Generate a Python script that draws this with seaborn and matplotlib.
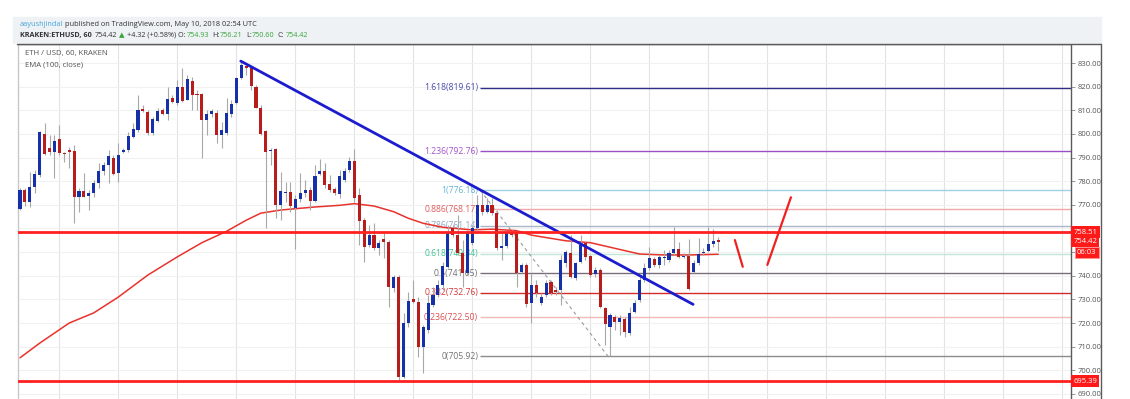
import matplotlib
matplotlib.use("Agg")
import numpy as np
import pandas as pd
import matplotlib.pyplot as plt
from matplotlib.lines import Line2D
from matplotlib.patches import Rectangle
import matplotlib.transforms as mtransforms
import seaborn as sns

# ETH/USD hourly candles (Kraken)
opens = [768.2, 776.3, 771.3, 777.7, 782.6, 800.0, 794.2, 792.5, 797.7, 791.9,
         792.9, 792.8, 773.5, 776.0, 773.9, 774.9, 779.1, 784.3, 786.8, 790.0,
         783.3, 792.2, 793.2, 798.8, 801.7, 810.5, 809.4, 800.3, 805.5, 810.0,
         808.3, 815.3, 812.9, 820.0, 814.3, 822.4, 816.7, 816.7, 805.9, 808.3,
         809.0, 799.5, 800.3, 808.3, 812.9, 823.5, 828.7, 827.7, 820.0, 811.1,
         801.2, 792.8, 793.6, 769.9, 775.0, 775.6, 768.8, 772.5, 774.9, 776.3,
         771.6, 783.0, 784.3, 778.8, 776.7, 774.5, 780.5, 784.7, 788.5, 774.3,
         763.6, 753.0, 757.2, 751.6, 755.4, 754.4, 734.7, 739.6, 697.0, 720.2,
         730.0, 729.0, 709.7, 717.1, 727.6, 731.9, 736.1, 743.9, 760.1, 757.2,
         749.5, 741.0, 753.7, 760.1, 769.9, 767.1, 769.9, 766.7, 751.6, 752.6,
         758.2, 758.6, 741.7, 744.6, 728.3, 736.1, 728.3, 731.9, 737.5, 734.0,
         734.0, 745.3, 749.8, 738.9, 746.0, 753.7, 748.4, 740.6, 742.4, 726.5,
         718.5, 722.7, 720.6, 721.7, 715.6, 724.8, 729.7, 738.2, 743.1, 747.1,
         744.5, 747.4, 746.7, 749.8, 751.2, 747.8, 748.4, 741.7, 745.3, 749.5,
         750.6, 753.3, 754.93]
highs = [777.0, 777.0, 784.0, 784.7, 801.2, 804.5, 799.5, 799.5, 803.8, 792.5,
         794.6, 795.3, 777.0, 783.3, 776.3, 780.5, 787.5, 788.3, 793.2, 791.1,
         796.0, 794.2, 801.0, 804.5, 816.5, 812.2, 810.1, 807.3, 810.8, 810.8,
         820.0, 816.5, 822.8, 827.7, 824.9, 824.2, 818.6, 817.2, 810.1, 810.5,
         810.1, 805.2, 815.3, 814.3, 824.2, 830.6, 829.2, 828.4, 820.7, 812.2,
         801.7, 793.9, 793.9, 784.0, 779.8, 779.8, 774.2, 783.3, 780.5, 777.7,
         786.8, 789.4, 787.5, 782.6, 777.7, 784.7, 785.4, 790.4, 793.6, 777.0,
         764.3, 761.5, 762.2, 755.1, 757.9, 755.1, 740.3, 740.3, 724.1, 733.3,
         738.2, 731.1, 719.2, 731.9, 735.4, 738.2, 746.0, 761.5, 761.5, 765.7,
         755.1, 759.4, 761.5, 774.2, 776.2, 772.8, 772.8, 767.8, 757.9, 759.1,
         759.4, 759.4, 745.3, 745.3, 741.0, 738.2, 732.6, 738.2, 738.2, 735.4,
         748.8, 750.9, 757.2, 746.0, 757.2, 754.4, 748.8, 743.5, 743.1, 726.9,
         724.1, 723.4, 723.4, 722.7, 726.9, 729.7, 740.3, 745.3, 752.3, 748.1,
         748.8, 750.9, 750.9, 760.8, 754.4, 749.5, 755.4, 746.7, 755.8, 751.6,
         760.8, 759.6, 756.21]
lows = [768.0, 769.7, 769.2, 774.9, 781.9, 791.1, 791.1, 781.2, 791.1, 788.3,
        785.4, 762.2, 767.1, 773.5, 767.8, 773.5, 777.0, 782.6, 779.1, 782.6,
        779.8, 791.8, 792.5, 798.1, 801.0, 809.4, 799.5, 799.5, 805.2, 808.0,
        805.9, 812.9, 812.2, 813.6, 814.3, 810.1, 810.1, 789.7, 799.5, 807.3,
        796.0, 793.9, 799.5, 807.3, 812.5, 823.2, 824.9, 818.6, 810.8, 799.5,
        760.0, 786.8, 764.3, 763.6, 771.3, 767.1, 751.3, 771.3, 773.5, 767.8,
        771.3, 782.6, 777.0, 775.6, 774.2, 772.8, 779.8, 784.0, 771.3, 753.0,
        746.0, 752.3, 750.9, 748.8, 747.4, 726.9, 733.3, 695.9, 696.6, 718.5,
        728.3, 705.8, 699.0, 715.6, 726.9, 731.1, 734.0, 743.1, 756.5, 748.8,
        735.4, 740.3, 753.0, 759.4, 765.7, 766.4, 765.7, 750.9, 746.7, 751.6,
        756.5, 735.4, 741.0, 726.9, 719.9, 731.2, 727.6, 731.2, 731.9, 731.9,
        727.6, 743.8, 738.9, 738.2, 745.3, 746.7, 739.6, 739.6, 726.2, 710.7,
        705.92, 717.1, 714.9, 714.2, 714.9, 724.1, 729.0, 737.5, 742.4, 743.8,
        743.1, 744.5, 746.0, 748.8, 747.4, 747.4, 734.0, 741.0, 744.5, 748.8,
        750.2, 752.3, 750.60]
closes = [776.3, 771.3, 777.7, 783.0, 801.0, 791.4, 792.5, 797.0, 791.8, 791.6,
          792.5, 773.5, 775.9, 773.5, 774.9, 779.1, 784.3, 786.8, 790.7, 783.0,
          791.1, 793.2, 799.1, 802.1, 810.1, 809.8, 800.3, 806.3, 809.7, 808.3,
          814.6, 813.6, 820.0, 813.9, 823.2, 816.5, 816.5, 805.9, 808.3, 809.7,
          799.5, 801.7, 808.7, 812.5, 823.5, 829.2, 827.7, 820.4, 811.1, 800.0,
          792.5, 793.2, 769.9, 775.9, 775.3, 769.5, 772.3, 774.9, 776.3, 771.6,
          782.3, 784.4, 778.4, 776.3, 774.9, 782.2, 784.5, 788.5, 773.0, 763.0,
          752.0, 757.2, 751.6, 753.7, 754.4, 735.4, 739.6, 697.0, 720.2, 729.5,
          729.0, 709.7, 718.5, 728.3, 731.9, 736.1, 744.0, 757.9, 757.2, 749.5,
          741.0, 757.9, 760.1, 769.9, 767.1, 769.9, 766.7, 751.6, 752.6, 757.9,
          757.2, 741.0, 744.6, 728.1, 736.1, 732.6, 731.2, 736.8, 732.6, 733.3,
          746.7, 750.2, 739.6, 745.3, 753.0, 748.1, 740.3, 742.4, 726.9, 719.6,
          723.4, 720.6, 722.0, 716.3, 724.1, 728.6, 738.2, 743.1, 747.4, 744.5,
          748.1, 748.1, 749.8, 751.2, 747.8, 748.4, 734.3, 745.3, 749.2, 750.2,
          753.4, 754.8, 754.42]

# EMA(100, close) read at a handful of bars
ema_bars = [0, 4, 10, 15, 20, 26, 32, 37, 42, 46, 49, 53, 60, 65, 68, 72,
            76, 79, 82, 86, 92, 96, 101, 104, 106, 111, 116, 121, 126, 131, 136, 142]
ema_vals = [705.3, 711.5, 720.0, 724.3, 731.0, 740.3, 748.0, 754.0, 758.8, 763.5,
            766.5, 767.8, 769.1, 769.8, 770.5, 769.5, 767.1, 764.3, 762.2, 760.5,
            759.4, 759.7, 759.1, 757.2, 756.5, 754.8, 754.0, 751.6, 749.2, 748.8,
            748.8, 749.1]

# drawings
fib_labels = ["1.618(819.61)", "1.236(792.76)", "1(776.18)", "0.886(768.17)",
              "0.786(761.14)", "0.618(749.34)", "0.5(741.05)", "0.382(732.76)",
              "0.236(722.50)", "0(705.92)"]
fib_prices = [819.61, 792.76, 776.18, 768.17, 761.14, 749.34, 741.05, 732.76, 722.50, 705.92]
fib_line_colors = ["#2e2e86", "#9b4fc4", "#9fd0e4", "#f0a8a8", "#a9b6c8",
                   "#bfe6d6", "#7a6f78", "#d42a2a", "#f3b9b9", "#8c8c8c"]
fib_text_colors = ["#4b4ba8", "#a454cc", "#63b3d6", "#e05c5c", "#8fa6c2",
                   "#3cc08e", "#6f6f6f", "#d43a3a", "#d85050", "#757575"]
fib_start = 93.6

trend_bars = [44.9, 136.9]
trend_prices = [830.8, 727.9]
swing_bars = [93.6, 119.6]
swing_prices = [776.18, 705.92]
level_prices = [758.51, 695.39]
arrow1_bars = [145.4, 147.0]
arrow1_prices = [755.1, 743.8]
arrow2_bars = [152.0, 156.8]
arrow2_prices = [744.6, 773.2]
ytick_prices = list(range(690, 840, 10))
hidden_ticks = [750, 760]  # covered by the price tags

BLUE = "#1530a8"
RED = "#b81d1d"

sns.set_theme(style="white")
plt.rcParams["font.family"] = ["Open Sans", "DejaVu Sans"]

W, H = 1130, 399
fig = plt.figure(figsize=(W / 100, H / 100), dpi=100)
fig.patch.set_facecolor("white")
# header band and outer frame
fig.patches.append(Rectangle((13 / W, 1 - 43 / H), (1101 - 13) / W, 26 / H,
                             transform=fig.transFigure, color="#eef2f5", zorder=0))
fig.lines.append(Line2D([17 / W, 1101 / W], [1 - 44 / H, 1 - 44 / H],
                        transform=fig.transFigure, color="#5a5a5a", lw=1))
fig.lines.append(Line2D([1101 / W, 1101 / W], [0, 1 - 44 / H],
                        transform=fig.transFigure, color="#5a5a5a", lw=1))

ax = fig.add_axes([18 / W, 0, (1070.7 - 18) / W, 1 - 44 / H])

df = pd.DataFrame({"open": opens, "high": highs, "low": lows, "close": closes})
df["bar"] = np.arange(len(df))
df["up"] = df["close"] >= df["open"]
df["body_lo"] = df[["open", "close"]].min(axis=1)
df["body_h"] = (df["close"] - df["open"]).abs().clip(lower=0.5)

# fibonacci retracement
for lab, p, lc, tc in zip(fib_labels, fib_prices, fib_line_colors, fib_text_colors):
    ax.hlines(p, fib_start, 214, color=lc, lw=1, zorder=1)
    ax.text(fib_start - 0.4, p, lab, ha="right", va="center", fontsize=6.2,
            color=tc, zorder=1.5)
ax.plot(swing_bars, swing_prices, color="#9a9a9a", lw=0.8, ls=(0, (3, 3)), zorder=1)

sns.lineplot(x=ema_bars, y=ema_vals, ax=ax, color="#e8322c", lw=1.1, zorder=2)

ax.vlines(df["bar"], df["low"], df["high"], color="#a8a8a8", lw=0.8, zorder=2.5)
ax.bar(df["bar"], df["body_h"], bottom=df["body_lo"], width=0.62,
       color=[BLUE if u else RED for u in df["up"]], lw=0, zorder=3)

ax.plot(trend_bars, trend_prices, color="#1c1ccf", lw=2, solid_capstyle="round", zorder=4)
for p in level_prices:
    ax.axhline(p, color="#ff2020", lw=2, zorder=4)
ax.plot(arrow1_bars, arrow1_prices, color="#f02020", lw=1.6, zorder=4)
ax.plot(arrow2_bars, arrow2_prices, color="#f02020", lw=1.6, zorder=4)

ax.set_xlim(-0.41, 213.7)
ax.set_ylim(687.87, 838.04)
ax.set_xticks(np.arange(8, 214, 12))
ax.set_yticks(ytick_prices)
ax.set_yticklabels(["" if v in hidden_ticks else f"{v:.2f}" for v in ytick_prices])
ax.yaxis.tick_right()
ax.tick_params(axis="x", length=0, labelbottom=False)
ax.tick_params(axis="y", labelsize=5.5, labelcolor="#555555", color="#888888",
               length=3, width=0.6, pad=2)
ax.grid(True, axis="x", color="#e3e3e3", lw=0.8)
ax.grid(True, axis="y", color="#f1f1f1", lw=0.8)
ax.set_axisbelow(True)
for side in ["top", "right", "left"]:
    ax.spines[side].set_color("#5a5a5a")
    ax.spines[side].set_linewidth(1)
ax.spines["left"].set_color("#c8c8c8")
ax.spines["bottom"].set_visible(False)
ax.set_xlabel("")
ax.set_ylabel("")

# price tags on the axis
tag_tf = mtransforms.blended_transform_factory(ax.transAxes, ax.transData)
for txt, p in [("758.51", 758.51), ("754.42", 754.42), ("695.39", 695.39)]:
    ax.text(1.0025, p, txt, transform=tag_tf, ha="left", va="center", fontsize=5.5,
            color="white", clip_on=False, zorder=6,
            bbox=dict(boxstyle="square,pad=0.3", fc="#ff1a1a", ec="none"))
ax.text(1.0245, 749.9, "06:03", transform=tag_tf, ha="right", va="center", fontsize=5.5,
        color="white", clip_on=False, zorder=6,
        bbox=dict(boxstyle="square,pad=0.3", fc="#ff1a1a", ec="#ff9090", lw=0.6))

# legend text inside the pane
fig.text(25 / W, 1 - 54 / H, "ETH / USD, 60, KRAKEN", fontsize=5.6, color="#555555",
         va="center", ha="left")
fig.text(25 / W, 1 - 64.7 / H, "EMA (100, close)", fontsize=5.6, color="#555555",
         va="center", ha="left")

# header lines built from pieces
renderer = fig.canvas.get_renderer()


def put_pieces(x, y, pieces, size):
    for s, color, weight, gap in pieces:
        t = fig.text(x, y, s, color=color, fontsize=size, fontweight=weight,
                     va="center", ha="left")
        bb = t.get_window_extent(renderer=renderer)
        x = (bb.x1 + gap) / fig.bbox.width


GREEN = "#3aa33a"
DARK = "#333333"
put_pieces(20 / W, 1 - 25 / H, [("aayushjindal", "#45a4dc", "normal", 2),
                                ("published on TradingView.com, May 10, 2018 02:54 UTC", DARK, "normal", 0)], 5.3)
put_pieces(20 / W, 1 - 35.5 / H, [("KRAKEN:ETHUSD, 60", DARK, "bold", 3),
                                  ("754.42", DARK, "normal", 2),
                                  ("▲", GREEN, "normal", 2),
                                  ("+4.32 (+0.58%) O:", DARK, "normal", 1),
                                  ("754.93", GREEN, "normal", 3),
                                  ("H:", DARK, "normal", 1),
                                  ("756.21", GREEN, "normal", 3),
                                  ("L:", DARK, "normal", 0.5),
                                  ("750.60", GREEN, "normal", 3),
                                  ("C:", DARK, "normal", 1),
                                  ("754.42", GREEN, "normal", 0)], 5.2)

fig.savefig("out.png", dpi=100)
